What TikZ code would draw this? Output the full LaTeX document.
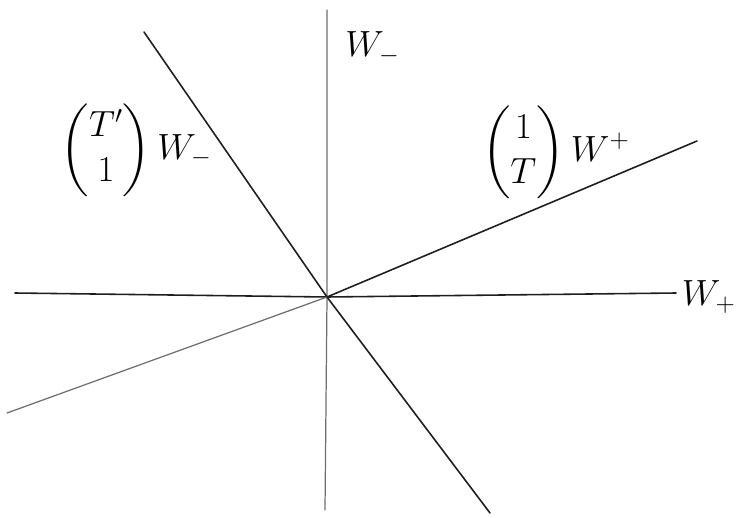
\documentclass[tikz,border=0pt]{standalone}
\usepackage{amsmath, amssymb}
\usepackage{tikz}
\usetikzlibrary{calc, positioning}
\usepackage{xcolor}
\definecolor{pencil}{RGB}{30, 30, 30}
\definecolor{faint}{RGB}{110, 110, 110}

\begin{document}
\begin{tikzpicture}[x=0.02cm, y=-0.02cm,
    axis/.style={pencil, line width=0.9pt, line cap=round},
    faintaxis/.style={faint, line width=0.7pt, line cap=round},
    lbl/.style={font=\fontsize{22}{26}\selectfont, inner sep=0pt}]
  \useasboundingbox (0, 0) rectangle (740, 517);

  % crossing point and line ends
  \coordinate (O) at (327, 297);
  \coordinate (vtop) at (327, 10);
  \coordinate (vbot) at (325, 510);
  \coordinate (hleft) at (15, 293);
  \coordinate (hright) at (676, 293);
  \coordinate (stop) at (144, 32);
  \coordinate (sbot) at (490, 513);
  \coordinate (fleft) at (7, 413);
  \coordinate (fright) at (697, 141);

  % W_+ and W_- axes
  \draw[faintaxis] (vtop) -- (O) -- (vbot);
  \draw[axis] (hleft) -- (O) -- (hright);

  % images of the axes
  \draw[axis] (stop) -- (O) -- (sbot);
  \draw[faintaxis] (fleft) -- (O);
  \draw[axis] (O) -- (fright);

  % labels
  \node[lbl, anchor=west] (wminus) at (345, 48) {$W_-$};
  \node[lbl, anchor=east] (wplus) at (736, 297) {$W_+$};
  \node[lbl, anchor=east] (imgminus) at (212, 150) {$\begin{pmatrix} T' \\ 1 \end{pmatrix} W_-$};
  \node[lbl, anchor=east] (imgplus) at (630, 152) {$\begin{pmatrix} 1 \\ T \end{pmatrix} W^+$};
\end{tikzpicture}
\end{document}
